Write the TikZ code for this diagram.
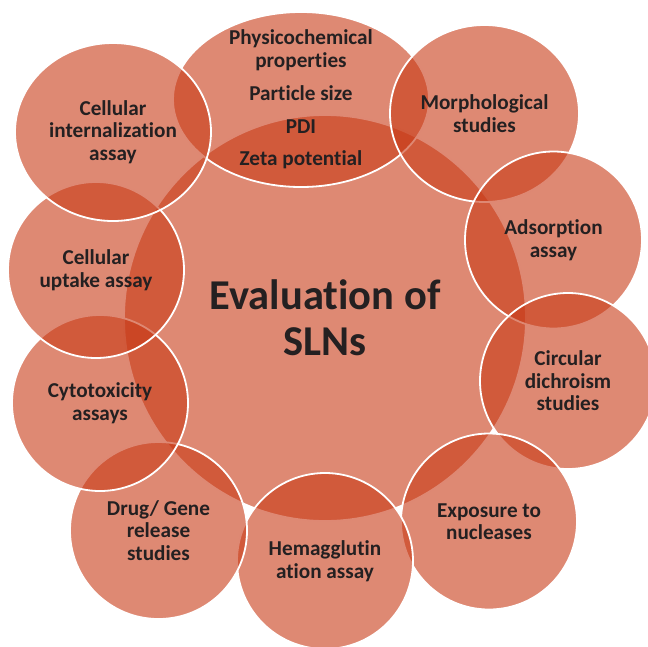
\documentclass[tikz,border=0pt]{standalone}
\usepackage{fontspec}
\setmainfont{Carlito}[Ligatures=NoCommon]
\usetikzlibrary{shapes.geometric}

\definecolor{slnred}{RGB}{200,58,22}
\definecolor{ink}{RGB}{36,32,33}
\tikzstyle{bubble}=[draw=white, ellipse, line width=1.8pt, fill=slnred,
                    fill opacity=0.6, inner sep=0pt]
\tikzstyle{itemtext}=[text=ink, align=center,
                      font=\bfseries\fontsize{21.2}{22.5}\selectfont]
\tikzstyle{hubtext}=[text=ink, align=center,
                     font=\bfseries\fontsize{42.5}{46}\selectfont]

\begin{document}
\begin{tikzpicture}[x=1pt, y=-1pt]
  \useasboundingbox (0,0) rectangle (648,646);
  % Hub first, then the ring of bubbles clockwise from the top
  \foreach \place/\name/\w/\h in {{(325,318)/hub/402pt/406pt},
           {(301,99.5)/phys/256pt/175pt}, {(484.5,113.5)/morph/189pt/177pt},
           {(553.5,240)/adsorp/177pt/177pt}, {(568,381)/cd/176pt/176pt},
           {(489,521.5)/expo/176pt/176pt}, {(325,561)/hemag/176pt/176pt},
           {(158.5,530.5)/drug/177pt/177pt}, {(100,403)/cyto/176pt/176pt},
           {(96,270)/uptake/176pt/176pt}, {(113,132)/intern/196pt/178pt}}
    \node[bubble, minimum width=\w, minimum height=\h] (\name) at \place {};
  %
  % Texts on top of all bubbles
  \node[hubtext] (lhub) at (hub) {Evaluation of\\SLNs};
  \node[itemtext] (lphys) at (phys) {Physicochemical\\properties\\[10.5pt]
        Particle size\\[10.5pt]PDI\\[10pt]Zeta potential};
  \foreach \name/\txt in {morph/{Morphological\\studies},
           adsorp/{Adsorption\\assay}, cd/{Circular\\dichroism\\studies},
           expo/{Exposure to\\nucleases}, hemag/{Hemagglutin\\ation assay},
           drug/{Drug/ Gene\\release\\studies}, cyto/{Cytotoxicity\\assays},
           uptake/{Cellular\\uptake assay},
           intern/{Cellular\\internalization\\assay}}
    \node[itemtext] (l\name) at (\name) {\txt};
\end{tikzpicture}
\end{document}
